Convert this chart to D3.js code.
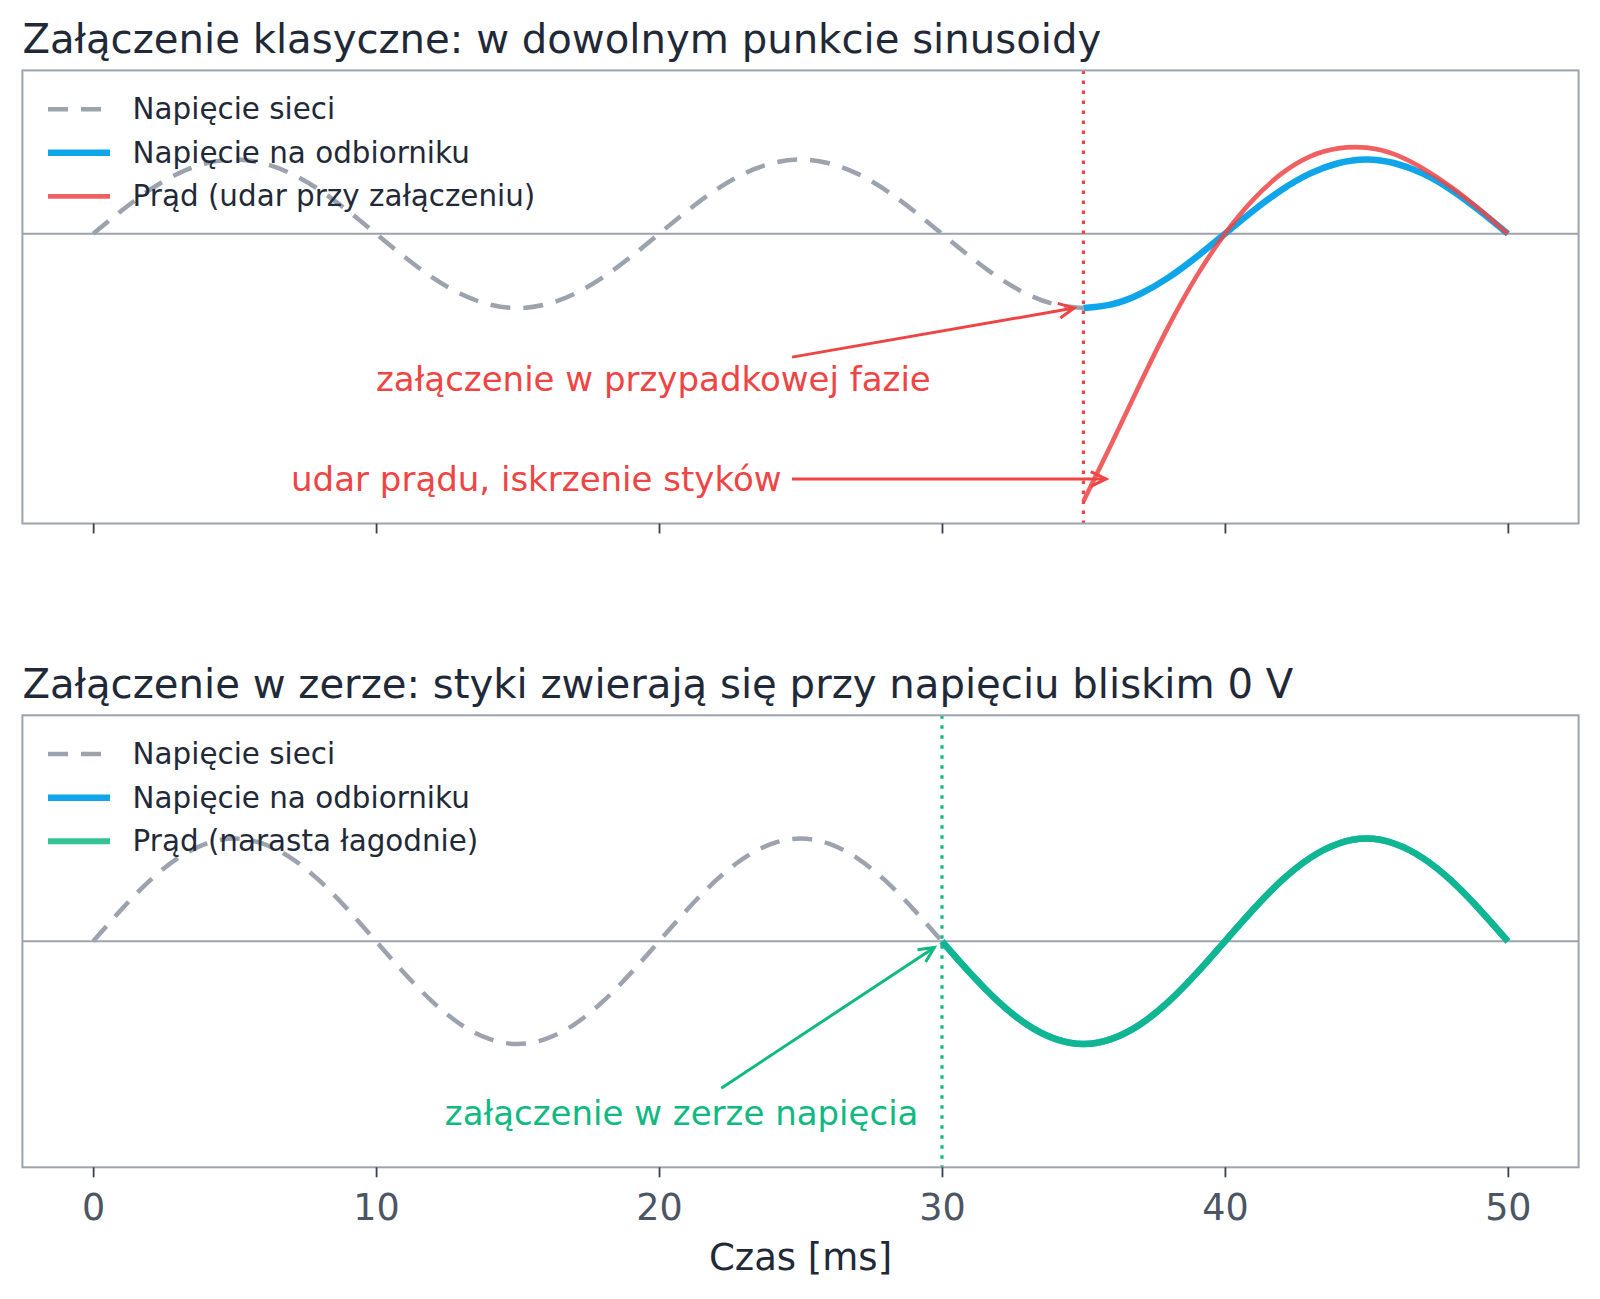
<!DOCTYPE html>
<html>
<head>
<meta charset="utf-8">
<script src="https://cdn.jsdelivr.net/npm/d3@7"></script>
<style>
  body { margin: 0; background: #fff; }
  svg { display: block; font-family: "DejaVu Sans", sans-serif; }
</style>
</head>
<body>
<svg id="chart" width="1600" height="1299"></svg>
<script>
// --- data ---
const timeMs = [0, 1, 2, 3, 4, 5, 6, 7, 8, 9, 10, 11, 12, 13, 14, 15, 16, 17, 18, 19, 20,
  21, 22, 23, 24, 25, 26, 27, 28, 29, 30, 31, 32, 33, 34, 35, 36, 37, 38, 39, 40,
  41, 42, 43, 44, 45, 46, 47, 48, 49, 50];
// mains voltage, normalised to amplitude 1
const mainsVoltage = [0, 0.31, 0.59, 0.81, 0.95, 1.00, 0.95, 0.81, 0.59, 0.31, 0,
  -0.31, -0.59, -0.81, -0.95, -1.00, -0.95, -0.81, -0.59, -0.31, 0,
  0.31, 0.59, 0.81, 0.95, 1.00, 0.95, 0.81, 0.59, 0.31, 0,
  -0.31, -0.59, -0.81, -0.95, -1.00, -0.95, -0.81, -0.59, -0.31, 0,
  0.31, 0.59, 0.81, 0.95, 1.00, 0.95, 0.81, 0.59, 0.31, 0];
// current after random-phase switch-on (t = 35 .. 50 ms)
const inrushCurrent = [-3.60, -2.82, -2.02, -1.25, -0.57, 0, 0.46, 0.81, 1.04, 1.15,
  1.16, 1.07, 0.88, 0.63, 0.33, 0];
const switchRandomMs = 35;
const switchZeroMs = 30;
const xTicks = [0, 10, 20, 30, 40, 50];

const C = {
  grid: "#9ca3af", text: "#1f2937", tick: "#4b5563",
  blue: "#0ea5e9", red: "#ef4444", green: "#10b981"
};
const DASH = "20 13";

const svg = d3.select("#chart");
const left = 22.4, right = 1578.6;
const x = d3.scaleLinear().domain([-2.5, 52.5]).range([left, right]);

const pts = (ts, vs) => ts.map((t, i) => ({ t, v: vs[i] }));
const mains = pts(timeMs, mainsVoltage);
const afterRandom = mains.filter(d => d.t >= switchRandomMs);
const currentRandom = pts(timeMs.filter(t => t >= switchRandomMs), inrushCurrent);
const afterZero = mains.filter(d => d.t >= switchZeroMs);

const panels = [
  {
    top: 70.4, bottom: 523.5, yDomain: [-3.9, 2.2], tickLabels: false,
    title: "Załączenie klasyczne: w dowolnym punkcie sinusoidy",
    switchAt: switchRandomMs, markColor: C.red,
    series: [
      { data: mains.filter(d => d.t <= switchRandomMs), color: C.grid, width: 4.5, dash: DASH },
      { data: afterRandom, color: C.blue, width: 6.5 },
      { data: currentRandom, color: C.red, width: 4.6, opacity: 0.85 }
    ],
    legend: [
      { label: "Napięcie sieci", color: C.grid, width: 4.5, dash: DASH },
      { label: "Napięcie na odbiorniku", color: C.blue, width: 6.5 },
      { label: "Prąd (udar przy załączeniu)", color: C.red, width: 4.6, opacity: 0.85 }
    ],
    notes: [
      { text: "załączenie w przypadkowej fazie", tx: 19.8, ty: -1.96, anchor: "middle",
        from: [24.7, -1.66], to: [34.67, -1.0] },
      { text: "udar prądu, iskrzenie styków", tx: 24.33, ty: -3.3, anchor: "end",
        from: [24.7, -3.3], to: [35.8, -3.3] }
    ]
  },
  {
    top: 715.3, bottom: 1167.3, yDomain: [-2.2, 2.2], tickLabels: true,
    title: "Załączenie w zerze: styki zwierają się przy napięciu bliskim 0 V",
    switchAt: switchZeroMs, markColor: C.green,
    series: [
      { data: mains.filter(d => d.t <= switchZeroMs), color: C.grid, width: 4.5, dash: DASH },
      { data: afterZero, color: C.blue, width: 6.5 },
      { data: afterZero, color: C.green, width: 6.5, opacity: 0.85 }
    ],
    legend: [
      { label: "Napięcie sieci", color: C.grid, width: 4.5, dash: DASH },
      { label: "Napięcie na odbiorniku", color: C.blue, width: 6.5 },
      { label: "Prąd (narasta łagodnie)", color: C.green, width: 6, opacity: 0.85 }
    ],
    notes: [
      { text: "załączenie w zerze napięcia", tx: 20.8, ty: -1.67, anchor: "middle",
        from: [22.2, -1.43], to: [29.73, -0.06] }
    ]
  }
];

function drawArrow(g, x1, y1, x2, y2, color) {
  const a = Math.atan2(y2 - y1, x2 - x1), len = 17, spread = 0.45;
  g.append("line").attr("x1", x1).attr("y1", y1).attr("x2", x2).attr("y2", y2)
    .attr("stroke", color).attr("stroke-width", 3);
  g.append("path")
    .attr("d", `M${x2 - len * Math.cos(a - spread)},${y2 - len * Math.sin(a - spread)}` +
      `L${x2},${y2}L${x2 - len * Math.cos(a + spread)},${y2 - len * Math.sin(a + spread)}`)
    .attr("fill", "none").attr("stroke", color).attr("stroke-width", 3)
    .attr("stroke-linejoin", "miter");
}

panels.forEach(p => {
  const y = d3.scaleLinear().domain(p.yDomain).range([p.bottom, p.top]);
  const g = svg.append("g");
  const line = d3.line().x(d => x(d.t)).y(d => y(d.v)).curve(d3.curveNatural);

  // title
  g.append("text").attr("x", left).attr("y", p.top - 17)
    .attr("font-size", 40.2).attr("fill", C.text).text(p.title);

  // zero line
  g.append("line").attr("x1", left).attr("x2", right)
    .attr("y1", y(0)).attr("y2", y(0))
    .attr("stroke", C.grid).attr("stroke-width", 2);

  // switching moment
  g.append("line").attr("x1", x(p.switchAt)).attr("x2", x(p.switchAt))
    .attr("y1", p.top).attr("y2", p.bottom)
    .attr("stroke", p.markColor).attr("stroke-width", 3.2).attr("stroke-dasharray", "3.5 6.5");

  // curves
  p.series.forEach(s => {
    g.append("path").datum(s.data).attr("d", line)
      .attr("fill", "none").attr("stroke", s.color).attr("stroke-width", s.width)
      .attr("stroke-opacity", s.opacity || 1)
      .attr("stroke-dasharray", s.dash || null);
  });

  // annotations
  p.notes.forEach(n => {
    g.append("text").attr("x", x(n.tx)).attr("y", y(n.ty))
      .attr("text-anchor", n.anchor).attr("dominant-baseline", "central")
      .attr("font-size", 34).attr("fill", p.markColor).text(n.text);
    drawArrow(g, x(n.from[0]), y(n.from[1]), x(n.to[0]), y(n.to[1]), p.markColor);
  });

  // legend
  const lg = g.append("g").attr("transform", `translate(0,${p.top})`);
  p.legend.forEach((l, i) => {
    const ly = 38.8 + i * 43.6;
    lg.append("line").attr("x1", 48).attr("x2", 110).attr("y1", ly).attr("y2", ly)
      .attr("stroke", l.color).attr("stroke-width", l.width)
      .attr("stroke-opacity", l.opacity || 1)
      .attr("stroke-dasharray", l.dash || null);
    lg.append("text").attr("x", 132.6).attr("y", ly).attr("dominant-baseline", "central")
      .attr("font-size", 29.4).attr("fill", C.text).text(l.label);
  });

  // frame
  g.append("rect").attr("x", left).attr("y", p.top)
    .attr("width", right - left).attr("height", p.bottom - p.top)
    .attr("fill", "none").attr("stroke", C.grid).attr("stroke-width", 2);

  // x axis
  const axis = d3.axisBottom(x).tickValues(xTicks).tickSize(10).tickPadding(17)
    .tickFormat(p.tickLabels ? d3.format("d") : () => "");
  const ax = g.append("g").attr("transform", `translate(0,${p.bottom})`).call(axis);
  ax.select(".domain").remove();
  ax.selectAll(".tick line").attr("stroke", "#374151").attr("stroke-width", 1.8);
  ax.selectAll(".tick text").attr("font-size", 36.5).attr("fill", C.tick)
    .attr("font-family", "DejaVu Sans, sans-serif");
});

svg.append("text").attr("x", (left + right) / 2).attr("y", 1270)
  .attr("text-anchor", "middle").attr("font-size", 37).attr("fill", C.text)
  .text("Czas [ms]");
</script>
</body>
</html>
